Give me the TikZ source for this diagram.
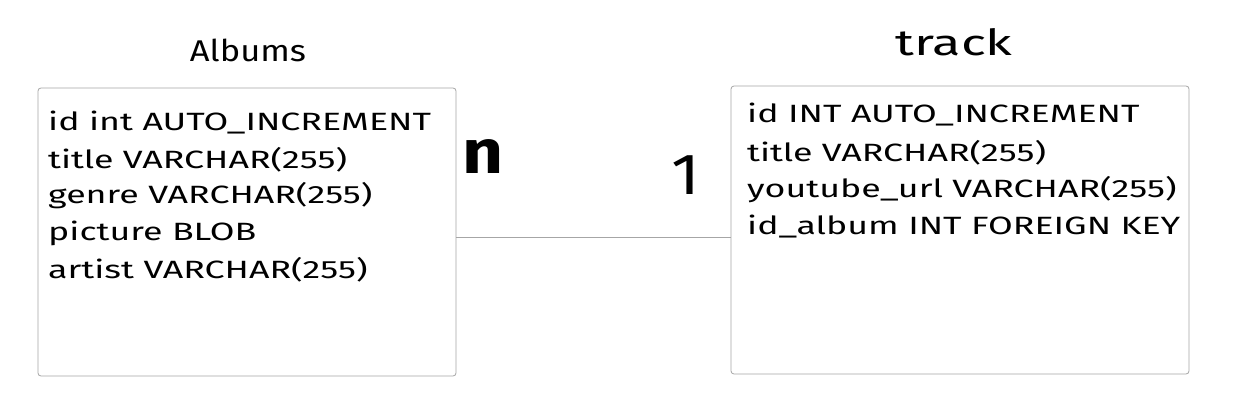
\documentclass[tikz,border=0pt]{standalone}
\usepackage{fontspec}
\newfontfamily\hand[FakeStretch=1.43]{Fira Sans}
\newfontfamily\handt[FakeStretch=1.15]{Fira Sans}
\newfontfamily\handw[FakeStretch=1.45]{Fira Sans}
\begin{document}
\begin{tikzpicture}[x=1pt,y=-1pt,
  tbl/.style={draw=black!35, line width=0.8pt, rounded corners=3pt},
  row/.style={anchor=west, inner sep=0pt, font=\hand\fontsize{25}{30}\selectfont},
  ttl/.style={inner sep=0pt, font=\handt\fontsize{30}{36}\selectfont},
  card/.style={inner sep=0pt, font=\handt\bfseries\fontsize{62}{64}\selectfont}]
\useasboundingbox (0,0) rectangle (1250,403);
\fill[white] (0,0) rectangle (1250,403);
\draw[tbl] (38,88) rectangle (456,376);
\draw[tbl] (731,86) rectangle (1189,374);
\coordinate (A) at (456,237);
\coordinate (B) at (731,237);
\draw[black!35, line width=0.8pt] (A) -- (B);
\node[ttl] (t1) at (248,50) {Albums};
\node[ttl, font=\handw\fontsize{36}{40}\selectfont] (t2) at (954,42) {track};
\node[row] (a1) at (48,123) {id int AUTO\_INCREMENT};
\node[row] (a2) at (48,160) {title VARCHAR(255)};
\node[row] (a3) at (48,196) {genre VARCHAR(255)};
\node[row] (a4) at (48,233) {picture BLOB};
\node[row] (a5) at (48,270) {artist VARCHAR(255)};
\node[row] (b1) at (747,115) {id INT AUTO\_INCREMENT};
\node[row] (b2) at (747,153) {title VARCHAR(255)};
\node[row] (b3) at (747,190) {youtube\_url VARCHAR(255)};
\node[row] (b4) at (747,227) {id\_album INT FOREIGN KEY};
\node[card] (n) at (483,157) {n};
\node[inner sep=0pt, font=\handt\fontsize{58}{60}\selectfont] (one) at (686,175) {1};
\end{tikzpicture}
\end{document}
